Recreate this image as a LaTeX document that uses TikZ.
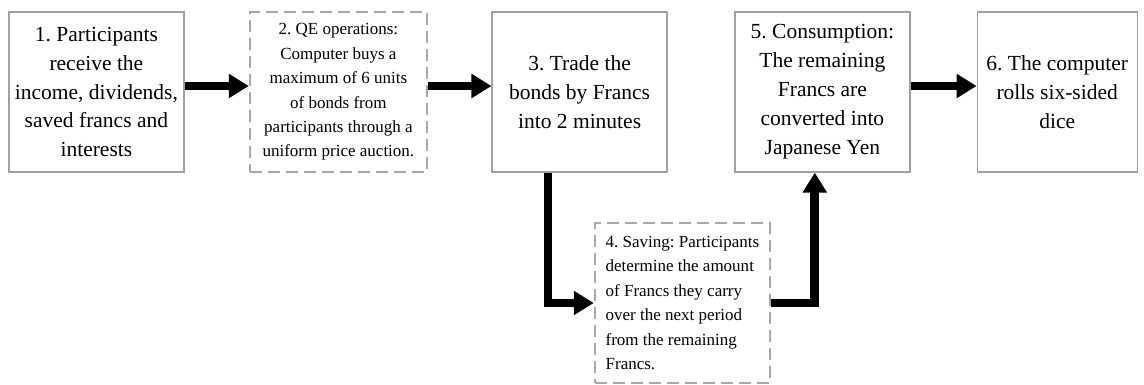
\documentclass[tikz,border=0pt]{standalone}
\usepackage{fontspec}
\setmainfont{Liberation Serif}
\usetikzlibrary{arrows.meta}
\definecolor{StepGray}{HTML}{A0A0A0}
\definecolor{QEGray}{HTML}{A8A8A8}
\frenchspacing

\begin{document}
\begin{tikzpicture}[line width=0.9pt,>={Triangle[length=0.5cm,width=0.58cm]},
  stepbox/.style={draw=StepGray,minimum width=4.375cm,minimum height=4cm,
    align=center,font=\fontsize{15.3}{20.6}\selectfont},
  qebox/.style={stepbox,draw=QEGray,line width=1.6pt,dash pattern=on 8.5pt off 4.3pt,
    font=\fontsize{12.1}{17.4}\selectfont},
  flow/.style={->,line width=0.22cm,line join=miter}]
  \useasboundingbox (0,0) rectangle (28.6,9.6);

  \node[stepbox] (receive) at (2.41,7.3)
    {1. Participants\\receive the\\income, dividends,\\saved francs and\\interests};
  \node[qebox,minimum width=4.425cm] (qe) at (8.46,7.3)
    {2. QE operations:\\Computer buys a\\maximum of 6 units\\of bonds from\\participants through a\\uniform price auction.};
  \node[stepbox] (trade) at (14.49,7.3)
    {3. Trade the\\bonds by Francs\\into 2 minutes};
  \node[qebox,align=left] (saving) at (17.06,2.025)
    {4. Saving: Participants\\determine the amount\\of Francs they carry\\over the next period\\from the remaining\\Francs.};
  \node[stepbox] (consume) at (20.56,7.3)
    {5. Consumption:\\The remaining\\Francs are\\converted into\\Japanese Yen};
  \node[stepbox,minimum width=4cm] (dice) at (26.43,7.3)
    {6. The computer\\rolls six-sided\\dice};

  \coordinate (row) at (0,7.45);
  \draw[flow] (receive.east |- row) -- (qe.west |- row);
  \draw[flow] (qe.east |- row) -- (trade.west |- row);
  \draw[flow] (consume.east |- row) -- (dice.west |- row);
  \draw[flow] ([xshift=-0.79cm]trade.south) |- (saving.west);
  \draw[flow] (saving.east) -| ([xshift=-0.19cm]consume.south);
\end{tikzpicture}
\end{document}
